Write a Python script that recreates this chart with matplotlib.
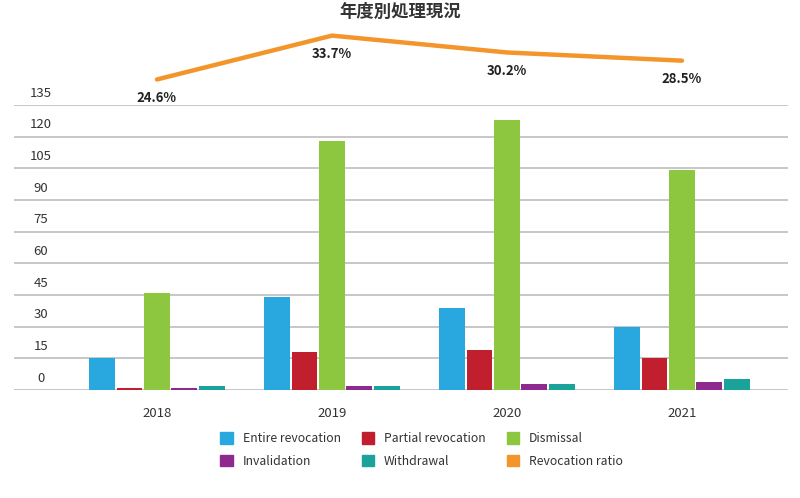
import matplotlib
matplotlib.use('Agg')
from matplotlib import pyplot as plt
from matplotlib.patches import Patch
import numpy as np

plt.rcParams['font.family'] = ['Noto Sans CJK JP', 'DejaVu Sans']

years = ['2018', '2019', '2020', '2021']
entire = [15, 44, 39, 30]
partial = [1, 18, 19, 15]
dismissal = [46, 118, 128, 104]
invalidation = [1, 2, 3, 4]
withdrawal = [2, 2, 3, 5]
ratio = [24.6, 33.7, 30.2, 28.5]

series = [
    ('Entire revocation', entire, '#29a8e0'),
    ('Partial revocation', partial, '#c11f2d'),
    ('Dismissal', dismissal, '#8dc63f'),
    ('Invalidation', invalidation, '#8e2a8f'),
    ('Withdrawal', withdrawal, '#19a39a'),
]
orange = '#f3952a'
yticks = [0, 15, 30, 45, 60, 75, 90, 105, 120, 135]

W, H = 800, 498
fig = plt.figure(figsize=(8, 4.98), dpi=100)

x = np.arange(len(years))
xlim = (-0.817, 3.606)

# 막대 차트
ax = fig.add_axes([14 / W, 1 - 390 / H, 774 / W, 285 / H])
step = 0.157
for i, (name, vals, col) in enumerate(series):
    ax.bar(x + (i - 2) * step, vals, width=0.148, color=col, zorder=3)
ax.set_xlim(*xlim)
ax.set_ylim(0, 135)
for t in yticks:
    ax.axhline(t, color='#bdbdbd', lw=1.2, zorder=1)
    ax.text(-0.665, t + 2.5, str(t), ha='center', va='bottom', fontsize=9.5,
            color='#333333')
for s in ax.spines.values():
    s.set_visible(False)
ax.set_yticks([])
ax.set_xticks(x)
ax.set_xticklabels(years, fontsize=9.5, color='#333333')
ax.tick_params(axis='x', length=0, pad=12)

# 비율 선
ax2 = fig.add_axes([14 / W, 1 - 105 / H, 774 / W, 80 / H])
ax2.set_xlim(*xlim)
ax2.set_ylim(19.3, 35.9)
ax2.plot(x, ratio, color=orange, lw=3.2, solid_capstyle='round')
for xi, r in zip(x, ratio):
    ax2.annotate(f'{r}%', (xi, r), xytext=(0, -8), textcoords='offset points',
                 ha='center', va='top', fontsize=9.5, fontweight='bold',
                 color='#222222', annotation_clip=False)
ax2.axis('off')

fig.text(0.5, 1 - 12 / H, '年度別処理現況', ha='center', va='center',
         fontsize=12.5, fontweight='bold', color='#333333')

handles = [Patch(color=c) for _, _, c in series] + [Patch(color=orange)]
labels = [n for n, _, _ in series] + ['Revocation ratio']
# 행 순서대로 배치
order = [0, 3, 1, 4, 2, 5]
fig.legend([handles[i] for i in order], [labels[i] for i in order],
           ncol=3, loc='center', bbox_to_anchor=(0.527, 1 - 450 / H),
           frameon=False, fontsize=8.8, handlelength=1.05, handleheight=1.05,
           columnspacing=1.7, handletextpad=0.8, labelspacing=0.8,
           labelcolor='#333333')

plt.savefig('out.png', dpi=100)
